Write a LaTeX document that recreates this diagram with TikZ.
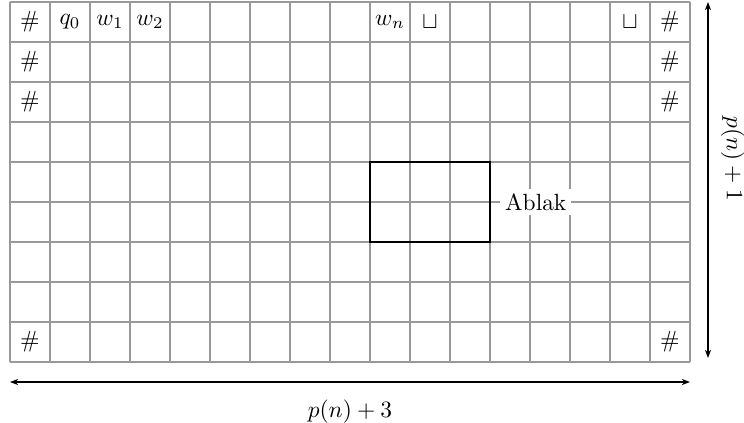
\documentclass[tikz,border=0pt]{standalone}
\usetikzlibrary{arrows.meta, positioning}

\begin{document}
\begin{tikzpicture}[
    x=0.6cm, y=0.6cm,
    gridline/.style={draw=black!40, line width=0.45pt},
    window/.style={draw=black, line width=1.1pt},
    cell/.style={inner sep=0pt, font=\normalsize},
    dimline/.style={{Stealth[length=3.5pt]}-{Stealth[length=3.5pt]}, black, line width=0.5pt}
]
    \useasboundingbox (-0.25,-1.52) rectangle (18.35,9.05);

    % tableau
    \foreach \i in {0,...,17} \draw[gridline] (\i,0) -- (\i,9);
    \foreach \j in {0,...,9} \draw[gridline] (0,\j) -- (17,\j);

    % first row
    \node[cell] (left0) at (0.5,8.5) {$\#$};
    \node[cell] (q0) at (1.5,8.5) {$q_0$};
    \node[cell] (w1) at (2.5,8.5) {$w_1$};
    \node[cell] (w2) at (3.5,8.5) {$w_2$};
    \node[cell] (wn) at (9.5,8.5) {$w_n$};
    \node[cell] (blank1) at (10.5,8.5) {$\sqcup$};
    \node[cell] (blank2) at (15.5,8.5) {$\sqcup$};
    \node[cell] (right0) at (16.5,8.5) {$\#$};

    % border symbols
    \node[cell] (left1) at (0.5,7.5) {$\#$};
    \node[cell] (left2) at (0.5,6.5) {$\#$};
    \node[cell] (leftlast) at (0.5,0.5) {$\#$};
    \node[cell] (right1) at (16.5,7.5) {$\#$};
    \node[cell] (right2) at (16.5,6.5) {$\#$};
    \node[cell] (rightlast) at (16.5,0.5) {$\#$};

    % window
    \draw[window] (9,3) rectangle (12,5);
    \node[anchor=west, fill=white, inner sep=2pt] (ablak) at (12.25,4) {Ablak};

    % dimensions
    \coordinate (wleft) at (0,-0.5);
    \coordinate (wright) at (17,-0.5);
    \coordinate (htop) at (17.45,9);
    \coordinate (hbottom) at (17.45,0.1);
    \draw[dimline] (wleft) -- (wright) node[midway, below=4pt] (width) {$p(n)+3$};
    \draw[dimline] (htop) -- (hbottom) node[pos=0.44, anchor=south, rotate=-90, inner sep=5.3pt] (height) {$p(n)+1$};
\end{tikzpicture}
\end{document}
